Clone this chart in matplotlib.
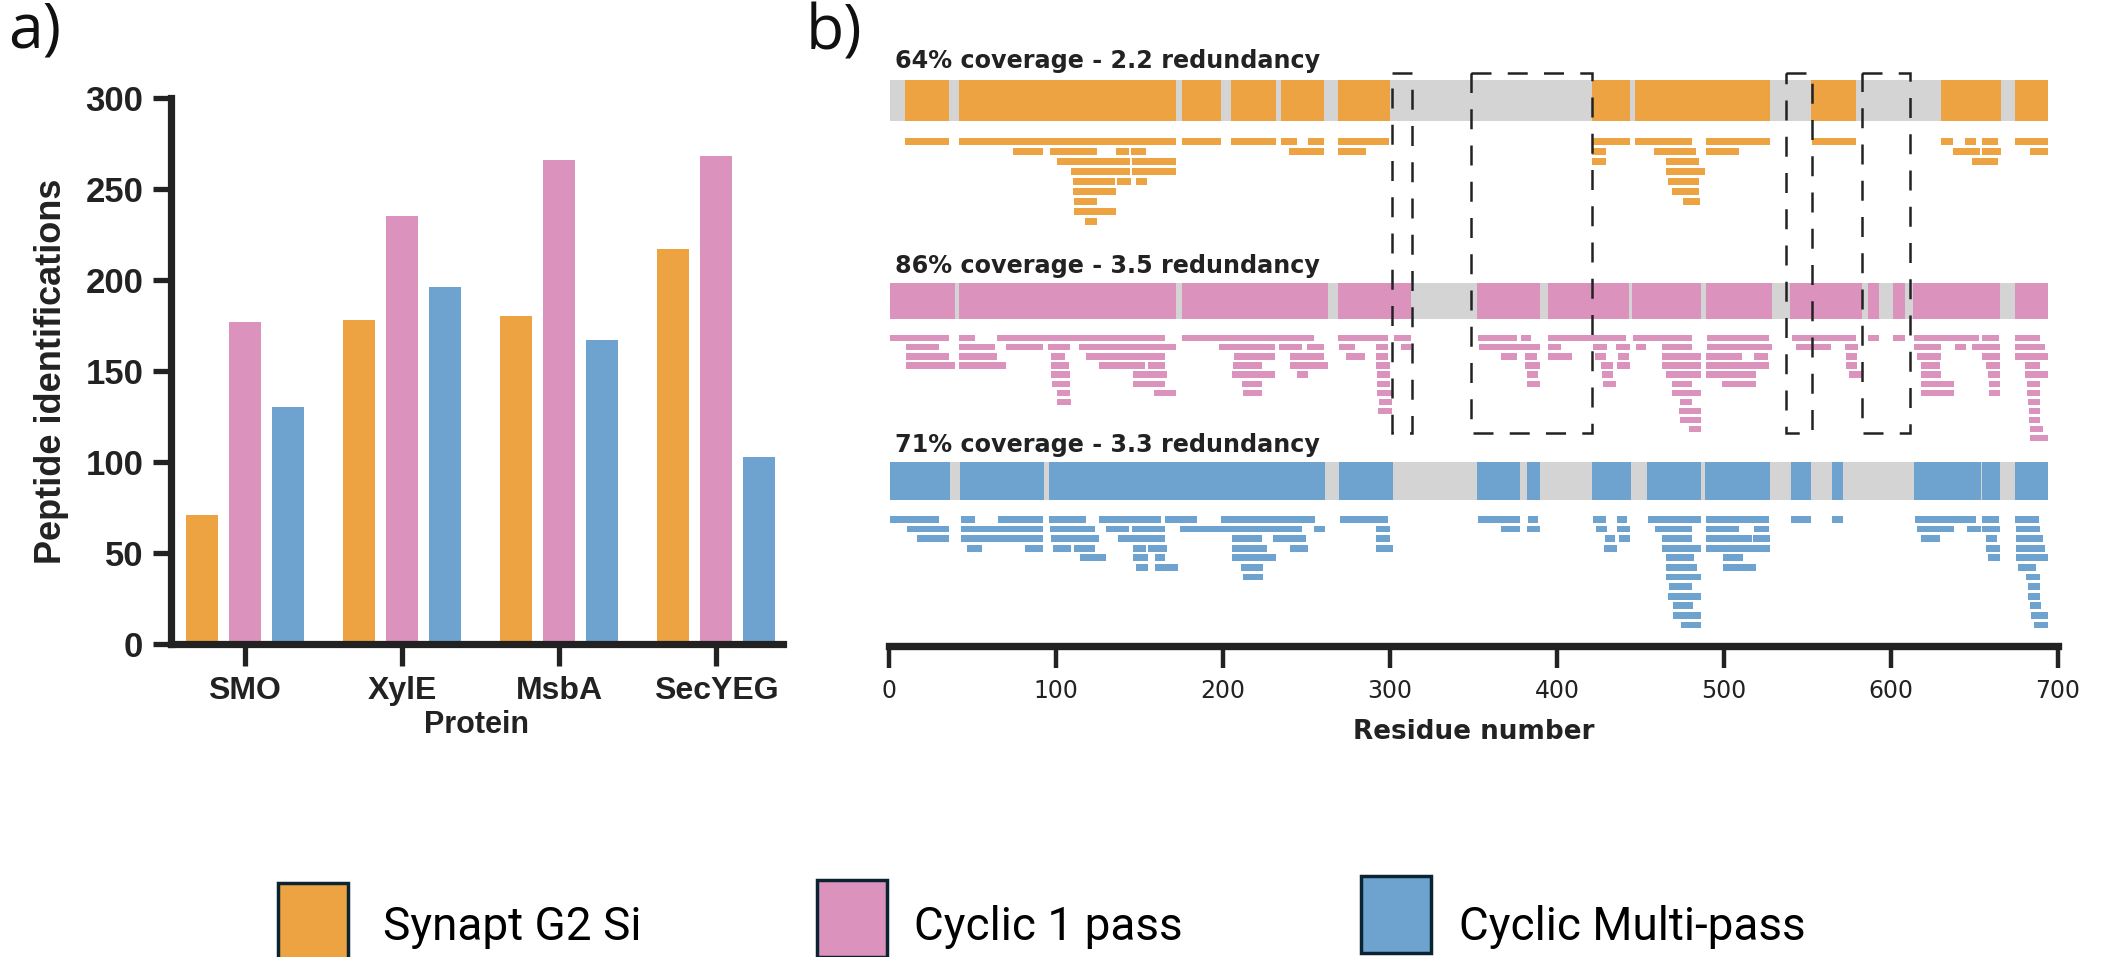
import matplotlib
matplotlib.use("Agg")
import matplotlib.pyplot as plt
from matplotlib.patches import Rectangle

# ---- panel a: peptide identifications per protein ----
proteins = ["SMO", "XylE", "MsbA", "SecYEG"]
synapt_ids = [71, 178, 180, 217]
cyclic1_ids = [177, 235, 266, 268]
multipass_ids = [130, 196, 167, 103]

series_names = ["Synapt G2 Si", "Cyclic 1 pass", "Cyclic Multi-pass"]
colors = ["#EEA343", "#DB92BD", "#6EA3CF"]

# ---- panel b: coverage maps (residue ranges) ----
protein_length = 694
residue_ticks = [0, 100, 200, 300, 400, 500, 600, 700]
stats = ["64% coverage - 2.2 redundancy",
         "86% coverage - 3.5 redundancy",
         "71% coverage - 3.3 redundancy"]
dashed_regions = [(301, 313), (348.5, 421), (537, 552.5), (582.5, 611.5)]

synapt_cov = [(9.6, 36.3), (42, 172.2), (175.8, 198.8), (204.7, 231.9), (235, 260.6),
              (268.9, 300.1), (421.1, 443.7), (446.9, 527.4), (552.3, 579.3),
              (630.2, 665.8), (674.4, 693.8)]
cyclic1_cov = [(0.6, 39.6), (42, 172.2), (175.8, 262.9), (268.9, 312.7), (352.3, 390),
               (394.4, 443.2), (445, 486.1), (489.2, 528.9), (539.8, 582.7), (586.1, 593.1),
               (601.4, 608.6), (613.3, 665.3), (674.4, 693.8)]
multi_cov = [(0.6, 36.8), (42.5, 92.9), (95.8, 261), (269.8, 302), (352.3, 378),
             (381.9, 390), (421.1, 444.3), (454.1, 486.1), (488.7, 527.4), (540.3, 552.3),
             (564.5, 571.5), (613.8, 654.1), (654.6, 665.3), (674.4, 693.8)]

# peptides, one list per stacking row
synapt_rows = [
    [(9.6, 36.3), (42, 172.2), (175.8, 198.8), (204.7, 231.9), (235, 244.5), (251.1, 260.6),
     (268.9, 299.6), (421.1, 443.7), (446.9, 480.6), (489.2, 527.4), (552.8, 578.8),
     (630.2, 637.2), (644.5, 651), (654.6, 664), (674.4, 693.8)],
    [(74.4, 92.2), (96.5, 124.9), (136, 143.8), (145, 154), (239.7, 260.6), (268.9, 285.9),
     (421.1, 429.5), (458, 483.5), (489.2, 509.2), (637.2, 653.6), (654.6, 665.8), (683.4, 693.8)],
    [(100.5, 144.5), (145.7, 172.2), (421.1, 429.5), (465.3, 485.3), (648.4, 664)],
    [(108.8, 144.5), (145.7, 172.2), (465.3, 488.7)],
    [(110, 135.5), (136.7, 145), (147.8, 154.5), (466.3, 485.3)],
    [(110, 136), (468.9, 485.3)],
    [(110.7, 124.9), (475.4, 485.8)],
    [(110.7, 136)],
    [(117.3, 124.9)],
]
cyclic1_rows = [
    [(0.6, 36.1), (42, 51.5), (65, 165.6), (175.8, 254.6), (268.9, 299), (302.5, 312.7),
     (352.8, 376.2), (378.3, 384.5), (394.4, 441.1), (445.6, 480.6), (490, 526.8),
     (540.6, 578.8), (586.1, 593.1), (601.4, 608.6), (613.8, 652.8), (654.6, 664.5), (674.4, 689.2)],
    [(10.5, 30.2), (42, 63.8), (70.4, 92.2), (95.3, 108.3), (113.7, 172.2), (197.6, 231.4),
     (233.8, 247.5), (250.4, 260.6), (269.3, 279.3), (291.8, 299), (306.7, 312.7),
     (353.6, 390), (394.4, 402.2), (421.7, 430.2), (435.4, 443.7), (447.1, 453.6),
     (463.2, 480.6), (490, 528.9), (543.2, 564), (572.3, 580.1), (613.8, 630.2),
     (638.5, 645), (648.4, 665.3), (674.4, 692.5)],
    [(10.5, 36.1), (42, 65), (97.2, 105.5), (117.8, 165.1), (206.6, 231.4), (240.4, 260.6),
     (273.6, 285.4), (291.8, 299), (366.6, 376.2), (380.6, 387.9), (394.4, 409.2),
     (423, 429.5), (436.5, 443.2), (463.2, 486.1), (489.2, 510.7), (517.8, 526.3),
     (573.1, 579.6), (615.7, 629.9), (654.6, 665.3), (674.4, 693.8)],
    [(10.5, 39.6), (42, 69.9), (97.2, 107.6), (125.6, 153.3), (155, 165.6), (206.1, 223.6),
     (240.4, 262.9), (291.8, 300.1), (380.6, 389.7), (426.1, 433.4), (436, 443.7),
     (463.2, 486.1), (489.2, 526.8), (573.1, 579.6), (617.7, 629.4), (656.7, 665.3), (680.1, 689.2)],
    [(97.2, 108.3), (146.2, 166.6), (205.4, 231.4), (244.5, 251.1), (292.3, 300.1),
     (382.2, 388.7), (426.9, 433.4), (465.3, 486.1), (489.2, 519.1), (574.9, 582.7),
     (617.7, 629.9), (658, 665.3), (680.1, 693.8)],
    [(97.6, 108.3), (146.2, 165.6), (211.3, 223.6), (292.3, 300.1), (382.2, 389.7),
     (427.6, 435.4), (469.2, 480.6), (499.1, 519.1), (617.7, 637.7), (658.5, 665.3), (681.4, 689.2)],
    [(100.5, 108.3), (158.7, 172.2), (212, 223.6), (292.3, 301.3), (469.2, 486.1),
     (617.7, 637.7), (658.8, 665.3), (681.4, 689.2)],
    [(100.5, 108.8), (293.5, 301.3), (473.6, 480.9), (682.2, 689.2)],
    [(293, 301.3), (473.1, 486.1), (682.7, 689.2)],
    [(473.6, 486.1), (682.7, 689.2)],
    [(479.3, 486.1), (683.2, 691.2)],
    [(683.2, 693.8)],
]
multi_rows = [
    [(0.6, 30.2), (43.2, 51.5), (65.2, 92.2), (96, 117.8), (126.1, 162.8), (165.6, 184.8),
     (198.8, 255.1), (270, 299), (352.8, 378), (382.7, 388.7), (421.7, 429.5), (436, 441.9),
     (454.6, 486.1), (489.2, 526.8), (540.3, 552.3), (564.5, 571.5), (614.4, 651),
     (654.6, 664.5), (674.4, 688.6)],
    [(10.7, 36.3), (43.2, 92.2), (96.5, 123.7), (130.1, 143.8), (145.7, 165.1), (174.1, 247.5),
     (254.6, 261), (291.8, 300.1), (366.4, 378), (381.9, 390), (423.5, 430), (436, 443.7),
     (458.5, 480.6), (489.2, 509.2), (517.8, 526.8), (615.7, 637.7), (645.5, 654.1),
     (654.6, 665.3), (674.9, 689.2)],
    [(17.1, 36.3), (43.2, 92.2), (96.9, 125.6), (137.2, 165.1), (205.4, 223.2), (230.3, 249.9),
     (291.8, 300.1), (428.7, 434.6), (437.2, 443.7), (463.2, 480.9), (489.2, 516.5),
     (517.2, 527.4), (617.7, 629.4), (656.7, 663.2), (674.9, 691.2)],
    [(46.7, 55.7), (81.8, 92.2), (98.1, 108.8), (111.1, 123.7), (146.2, 153.8), (155.2, 166.8),
     (205.4, 226.2), (240.2, 251.1), (291.8, 302), (428.2, 436), (463.2, 486.1),
     (489.2, 527.4), (656.7, 665.3), (674.9, 692.5)],
    [(114.2, 130.1), (146.2, 155), (159.2, 165.6), (205.4, 231.9), (465.3, 482.2),
     (499.6, 511.3), (658, 665.3), (674.9, 693.8)],
    [(147.8, 155), (159.2, 172.9), (210.6, 223.9), (465.3, 484), (499.6, 519.1), (676.2, 686.6)],
    [(212, 223.9), (465.3, 486.1), (680.6, 689.2)],
    [(467.1, 480.9), (681.9, 689.2)],
    [(466.6, 486.1), (681.9, 689.2)],
    [(469.7, 481.4), (683.2, 689.9)],
    [(469.7, 486.1), (684, 693.8)],
    [(474.4, 486.1), (685.8, 693.8)],
]

W, H = 2102, 957
fig = plt.figure(figsize=(W / 100, H / 100), dpi=100)
ink = "#222222"

# ---------------- panel a ----------------
ax = fig.add_axes([171 / W, 1 - 644 / H, (783 - 171) / W, (644 - 98) / H])
groups = [synapt_ids, cyclic1_ids, multipass_ids]
offs = [-0.273, 0, 0.273]
for vals, off, c in zip(groups, offs, colors):
    ax.bar([i + off for i in range(len(proteins))], vals, width=0.205, color=c)
ax.set_xlim(-0.47, 3.425)
ax.set_ylim(0, 300)
ax.set_yticks([0, 50, 100, 150, 200, 250, 300])
ax.set_xticks(range(len(proteins)))
ax.set_xticklabels(proteins)
for s in ["top", "right"]:
    ax.spines[s].set_visible(False)
for s in ["left", "bottom"]:
    ax.spines[s].set_linewidth(5.2)
    ax.spines[s].set_color(ink)
    ax.spines[s].set_capstyle("projecting")
ax.tick_params(axis="y", length=13, width=3.8, color=ink, pad=7)
ax.tick_params(axis="x", length=16, width=3.8, color=ink, pad=7)
for lab in ax.get_yticklabels():
    lab.set_fontsize(25)
for lab in ax.get_xticklabels():
    lab.set_fontsize(23)
for lab in ax.get_xticklabels() + ax.get_yticklabels():
    lab.set_fontfamily("Liberation Sans")
    lab.set_fontweight("bold")
    lab.set_color(ink)
ax.set_ylabel("Peptide identifications", fontsize=26, fontweight="bold",
              family="Liberation Sans", color=ink, labelpad=12)
ax.set_xlabel("Protein", fontsize=22, fontweight="bold", family="Liberation Sans",
              color=ink, labelpad=3)

# ---------------- panel b ----------------
bx = fig.add_axes([888.8 / W, 1 - 646 / H, (2058 - 888.8) / W, (646 - 40) / H])
bx.set_xlim(0, 700)
bx.set_ylim(646, 40)   # y in layout units, top down

covs = [synapt_cov, cyclic1_cov, multi_cov]
rows_all = [synapt_rows, cyclic1_rows, multi_rows]
bar_top = [80, 283.3, 461.7]
bar_h = [40.5, 35.8, 38.3]
row_top = [137.7, 335, 516]
pitch = [10, 9.1, 9.6]
title_base = [68.3, 273.3, 451.7]
gray = "#D4D4D4"

for k in range(3):
    bx.broken_barh([(0.5, protein_length - 0.5)], (bar_top[k], bar_h[k]), color=gray, lw=0)
    bx.broken_barh([(a, b - a) for a, b in covs[k]], (bar_top[k], bar_h[k]),
                   color=colors[k], lw=0)
    for r, segs in enumerate(rows_all[k]):
        y0 = row_top[k] + r * pitch[k]
        bx.broken_barh([(a, b - a) for a, b in segs], (y0, pitch[k] * 0.7),
                       color=colors[k], lw=0)
    bx.text(3.5, title_base[k], stats[k], fontsize=17.2, fontweight="bold",
            family="DejaVu Sans", color=ink, va="baseline", ha="left")

for a, b in dashed_regions:
    bx.add_patch(Rectangle((a, 73), b - a, 433 - 73, fill=False, ec=ink, lw=1.8,
                           ls=(0, (8, 6.5)), zorder=5))

for s in ["top", "right", "left"]:
    bx.spines[s].set_visible(False)
bx.spines["bottom"].set_linewidth(5.3)
bx.spines["bottom"].set_color(ink)
bx.spines["bottom"].set_capstyle("projecting")
bx.set_yticks([])
bx.set_xticks(residue_ticks)
bx.tick_params(axis="x", length=16, width=3.2, color=ink, pad=7.5, labelsize=17)
for lab in bx.get_xticklabels():
    lab.set_fontfamily("DejaVu Sans")
    lab.set_color(ink)
bx.set_xlabel("Residue number", fontsize=18.9, fontweight="bold", family="DejaVu Sans",
              color=ink, labelpad=12)

# ---------------- panel labels and legend ----------------
ov = fig.add_axes([0, 0, 1, 1], zorder=-1)
ov.set_xlim(0, W)
ov.set_ylim(H, 0)
ov.axis("off")
ov.text(8, 0, "a)", fontsize=45, family="Open Sans", va="top", ha="left", color="#111111")
ov.text(806, 2, "b)", fontsize=45, family="Open Sans", va="top", ha="left", color="#111111")

leg_x = [278, 817, 1361]
leg_top = [883, 880, 876]
leg_text_x = [383, 914, 1459]
for name, c, x, t, tx in zip(series_names, colors, leg_x, leg_top, leg_text_x):
    ov.add_patch(Rectangle((x, t), 70, 77, fc=c, ec="#0B2433", lw=2.5))
    ov.text(tx, 940, name, fontsize=33, family="Roboto", va="baseline", ha="left",
            color="black")

fig.savefig("out.png", dpi=100)
